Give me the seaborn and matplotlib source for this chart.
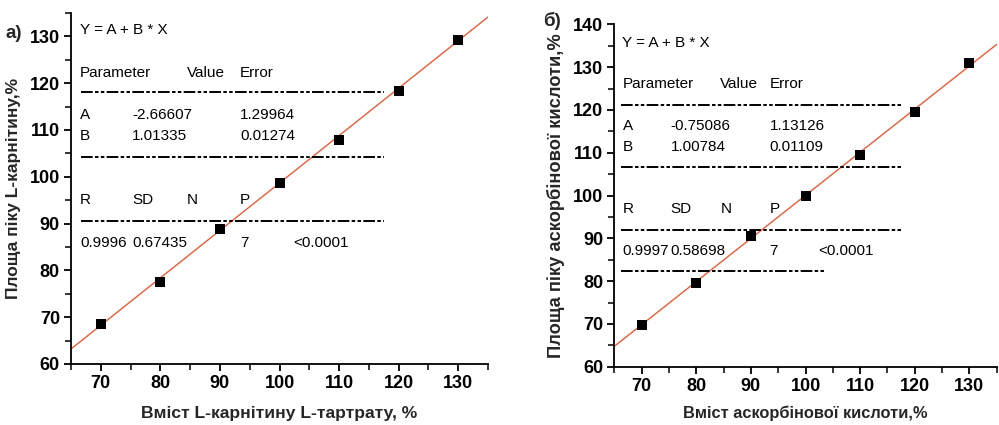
import matplotlib
matplotlib.use("Agg")
import matplotlib.pyplot as plt
import seaborn as sns
import pandas as pd
from matplotlib.ticker import MultipleLocator

sns.set_style("ticks")
plt.rcParams['font.family'] = ['Liberation Sans', 'DejaVu Sans']

# ---------------- data ----------------
x_content = [70, 80, 90, 100, 110, 120, 130]
y_carnitine = [68.5, 77.5, 88.9, 98.7, 107.8, 118.4, 129.3]
y_ascorbic = [69.7, 79.5, 90.5, 100.0, 109.5, 119.4, 130.9]

fit_a = {"A": -2.66607, "B": 1.01335}
fit_b = {"A": -0.75086, "B": 1.00784}

param_names = ["A", "B"]
values_a = ["-2.66607", "1.01335"]
errors_a = ["1.29964", "0.01274"]
stats_a = ["0.9996", "0.67435", "7", "<0.0001"]
values_b = ["-0.75086", "1.00784"]
errors_b = ["1.13126", "0.01109"]
stats_b = ["0.9997", "0.58698", "7", "<0.0001"]

header_cols = ["Parameter", "Value", "Error"]
stat_headers = ["R", "SD", "N", "P"]

xlabel_a = "Вміст L-карнітину L-тартрату, %"
ylabel_a = "Площа піку L-карнітину,%"
xlabel_b = "Вміст аскорбінової кислоти,%"
ylabel_b = "Площа піку аскорбінової кислоти,%"

# ---------------- layout ----------------
W, H = 999, 425
fig = plt.figure(figsize=(W / 100, H / 100), dpi=100)
axA = fig.add_axes([71 / W, 1 - 364 / H, (488 - 71) / W, (364 - 13) / H])
axB = fig.add_axes([614.3 / W, 1 - 366.7 / H, (996.7 - 614.3) / W, (366.7 - 24.3) / H])

line_color = "#EE5A36"
dash_style = (0, (6, 1.2, 1.8, 1.2, 1.8, 1.2))
col_x = [66.5, 75.3, 84.4, 93.4, 102.3]
table_fs = 11


def draw_panel(ax, ys, fit, ylim, yticks_major, vals, errs, stats,
               baselines, hlines, xlabel, ylabel, xl_fs, yl_fs, xl_pad):
    df = pd.DataFrame({"x": x_content, "y": ys})
    ax.axline((0, fit["A"]), slope=fit["B"], color=line_color, lw=1.0, zorder=2)
    sns.scatterplot(data=df, x="x", y="y", marker="s", s=54, color="black",
                    edgecolor="black", linewidth=0, ax=ax, zorder=3)
    ax.set_xlim(65, 135)
    ax.set_ylim(*ylim)
    ax.xaxis.set_major_locator(MultipleLocator(10))
    ax.xaxis.set_minor_locator(MultipleLocator(5))
    ax.yaxis.set_major_locator(MultipleLocator(10))
    ax.yaxis.set_minor_locator(MultipleLocator(5))
    ax.set_xticks(list(range(70, 131, 10)))
    ax.set_yticks(yticks_major)
    for sp in ["top", "right"]:
        ax.spines[sp].set_visible(False)
    for sp in ["left", "bottom"]:
        ax.spines[sp].set_linewidth(1.3)
        ax.spines[sp].set_color("black")
    ax.tick_params(which="major", direction="out", length=5, width=1.3,
                   labelsize=13, pad=3, colors="black")
    ax.tick_params(which="minor", direction="out", length=4, width=1.3)
    for lab in ax.get_xticklabels() + ax.get_yticklabels():
        lab.set_fontweight("bold")
    ax.set_xlabel(xlabel, fontsize=xl_fs, fontweight="bold", labelpad=xl_pad)
    ax.set_ylabel(ylabel, fontsize=yl_fs, fontweight="bold", labelpad=6)

    b = baselines
    kw = dict(fontsize=table_fs, va="baseline", ha="left", color="black")
    ax.text(col_x[0], b[0], "Y = A + B * X", **kw)
    ax.text(col_x[0], b[1], header_cols[0], **kw)
    ax.text(col_x[2], b[1], header_cols[1], **kw)
    ax.text(col_x[3], b[1], header_cols[2], **kw)
    for i, name in enumerate(param_names):
        ax.text(col_x[0], b[2 + i], name, **kw)
        ax.text(col_x[1], b[2 + i], vals[i], **kw)
        ax.text(col_x[3], b[2 + i], errs[i], **kw)
    for i, h in enumerate(stat_headers):
        ax.text(col_x[i], b[4], h, **kw)
    ax.text(col_x[0], b[5], stats[0], **kw)
    ax.text(col_x[1], b[5], stats[1], **kw)
    ax.text(col_x[3], b[5], stats[2], **kw)
    ax.text(col_x[4], b[5], stats[3], **kw)
    for (yy, x0, x1) in hlines:
        ax.hlines(yy, x0, x1, colors="black", lw=1.4, linestyles=[dash_style])


draw_panel(axA, y_carnitine, fit_a, (60, 135), list(range(60, 131, 10)),
           values_a, errors_a, stats_a,
           [130.6, 121.4, 112.4, 107.9, 94.1, 85.0],
           [(118.2, 66.7, 117.5), (104.3, 66.7, 117.5), (90.6, 66.7, 117.5)],
           xlabel_a, ylabel_a, 12.6, 12.5, 10)
draw_panel(axB, y_ascorbic, fit_b, (60, 140), list(range(60, 141, 10)),
           values_b, errors_b, stats_b,
           [134.8, 125.0, 115.3, 110.5, 95.8, 86.1],
           [(121.1, 66.2, 117.5), (106.7, 66.2, 117.5), (91.9, 66.2, 117.5),
            (82.4, 66.2, 103.6)],
           xlabel_b, ylabel_b, 11.8, 13.2, 8)

fig.text(5 / W, 1 - 38 / H, "а)", fontsize=13.5, fontweight="bold", ha="left", va="baseline")
fig.text(543 / W, 1 - 26 / H, "б)", fontsize=13.5, fontweight="bold", ha="left", va="baseline")

fig.savefig("out.png", dpi=100)
